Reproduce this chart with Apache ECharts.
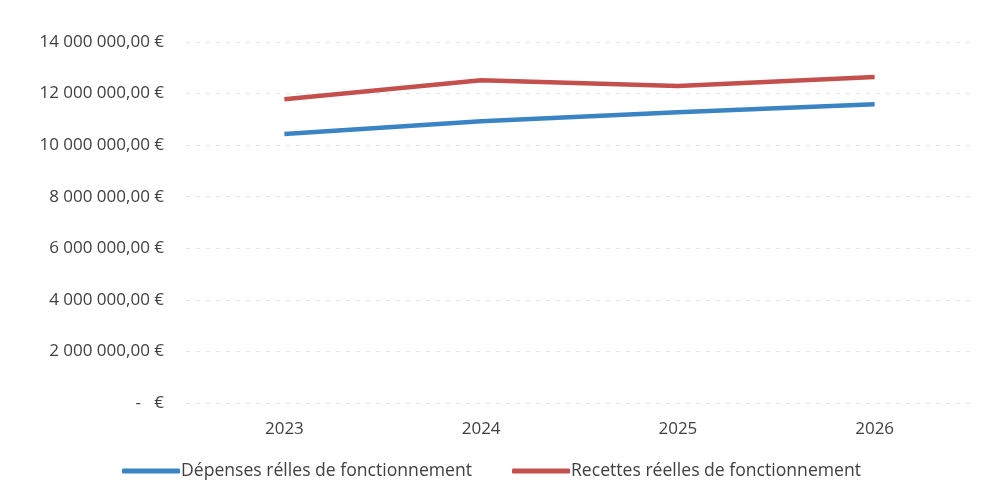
<!DOCTYPE html>
<html>
<head>
<meta charset="utf-8">
<script src="https://cdn.jsdelivr.net/npm/echarts@6/dist/echarts.min.js"></script>
<style>
  html, body { margin: 0; padding: 0; background: #fff; }
  #chart { width: 983px; height: 497px; }
</style>
</head>
<body>
<div id="chart"></div>
<script>
// données
const years = ['2023', '2024', '2025', '2026']
const depenses = [10430000, 10930000, 11280000, 11590000]
const recettes = [11780000, 12520000, 12290000, 12640000]
const seriesNames = ['Dépenses rélles de fonctionnement', 'Recettes réelles de fonctionnement']

function euro(v) {
  if (v === 0) return '-   €'
  const s = Math.round(v).toString().replace(/\B(?=(\d{3})+(?!\d))/g, ' ')
  return s + ',00 €'
}

const chart = echarts.init(document.getElementById('chart'))

const option = {
  animation: false,
  textStyle: { fontFamily: 'Open Sans, sans-serif' },
  grid: { left: 186, right: 10, top: 42, bottom: 94 },
  xAxis: {
    type: 'category',
    data: years,
    boundaryGap: true,
    axisLine: { show: false },
    axisTick: { show: false },
    axisLabel: { color: '#404040', fontSize: 17, margin: 18 }
  },
  yAxis: {
    type: 'value',
    min: 0,
    max: 14000000,
    interval: 2000000,
    axisLine: { show: false },
    axisTick: { show: false },
    axisLabel: { color: '#404040', fontSize: 17, margin: 22, formatter: euro },
    splitLine: { lineStyle: { color: '#e6e6e6', type: [4, 6], width: 1 } }
  },
  legend: {
    bottom: 12,
    left: 'center',
    itemGap: 40,
    itemWidth: 58,
    itemHeight: 5,
    icon: 'roundRect',
    textStyle: { color: '#404040', fontSize: 17.6, padding: [0, 0, 0, -4] },
    data: seriesNames
  },
  series: [
    {
      name: seriesNames[0],
      type: 'line',
      data: depenses,
      symbol: 'none',
      lineStyle: { color: '#3b84c4', width: 4.5 },
      itemStyle: { color: '#3b84c4' }
    },
    {
      name: seriesNames[1],
      type: 'line',
      data: recettes,
      symbol: 'none',
      lineStyle: { color: '#c4504d', width: 4.5 },
      itemStyle: { color: '#c4504d' }
    }
  ]
}

chart.setOption(option)
</script>
</body>
</html>
